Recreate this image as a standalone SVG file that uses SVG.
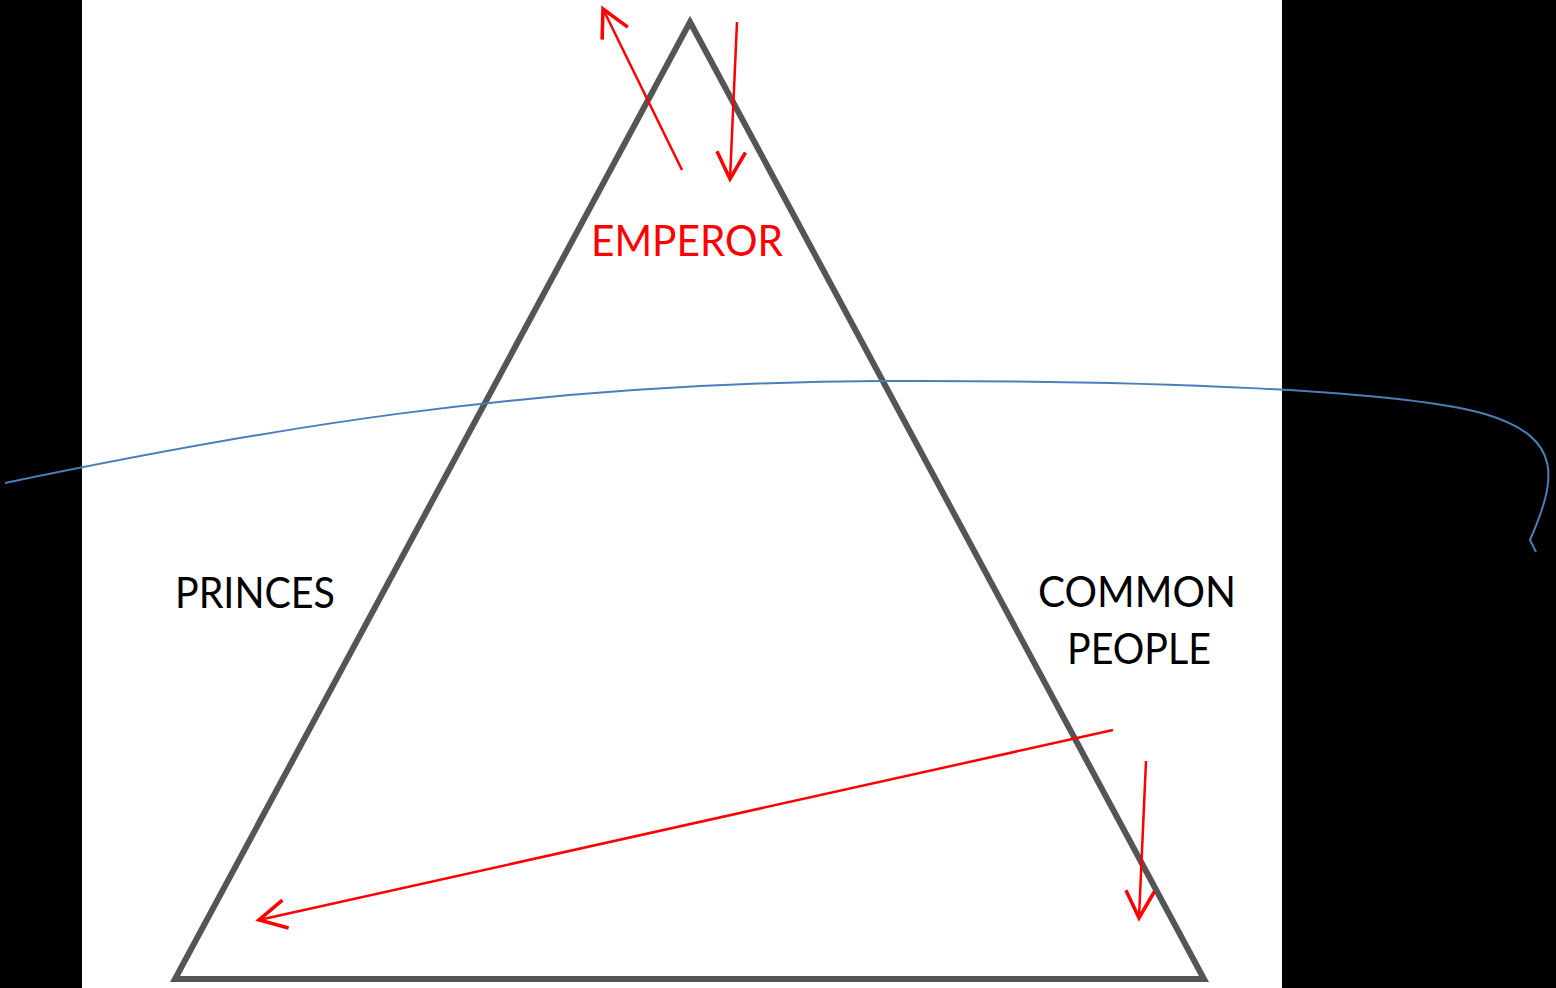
<svg xmlns="http://www.w3.org/2000/svg" width="1556" height="988" viewBox="0 0 1556 988">
  <style>
    .lbl { font-family: Lato, "Open Sans", "Liberation Sans", sans-serif; font-size: 43px; }
    .red { stroke: #ff0000; stroke-width: 2.5; fill: none; }
  </style>
  <defs>
    <marker id="ah" markerUnits="userSpaceOnUse" markerWidth="40" markerHeight="40" refX="0" refY="0" viewBox="-22 -14 26 28" orient="auto">
      <path d="M-19,-10 L0,0 L-19,10" fill="none" stroke="#ff0000" stroke-width="2.5"/>
    </marker>
  </defs>
  <rect x="0" y="0" width="1556" height="988" fill="#000000"/>
  <rect x="82" y="0" width="1200" height="988" fill="#ffffff"/>
  <g id="pyramid">
    <path d="M690,22 L1204,979 L175,979 Z" fill="none" stroke="#555555" stroke-width="6" stroke-linejoin="miter"/>
  </g>
  <g id="emperor">
    <text class="lbl" x="591" y="256" fill="#ff0000" textLength="192" lengthAdjust="spacingAndGlyphs">EMPEROR</text>
  </g>
  <g id="princes">
    <text class="lbl" x="175" y="608" fill="#000000" textLength="160" lengthAdjust="spacingAndGlyphs">PRINCES</text>
  </g>
  <g id="common-people">
    <text class="lbl" x="1038" y="607" fill="#000000" textLength="198" lengthAdjust="spacingAndGlyphs">COMMON</text>
    <text class="lbl" x="1067" y="664" fill="#000000" textLength="144" lengthAdjust="spacingAndGlyphs">PEOPLE</text>
  </g>
  <g id="connectors">
    <path d="M5,483 C250,432 520,383 880,381 C1150,380 1400,390 1485,414 C1565,438 1556,480 1530,540 L1536,552" fill="none" stroke="#4a7ebb" stroke-width="2"/>
    <line class="red" x1="682" y1="170" x2="603" y2="9" marker-end="url(#ah)"/>
    <line class="red" x1="737" y1="22" x2="730" y2="179" marker-end="url(#ah)"/>
    <line class="red" x1="1113" y1="730" x2="259" y2="920" marker-end="url(#ah)"/>
    <line class="red" x1="1146" y1="761" x2="1139" y2="918" marker-end="url(#ah)"/>
  </g>
</svg>
